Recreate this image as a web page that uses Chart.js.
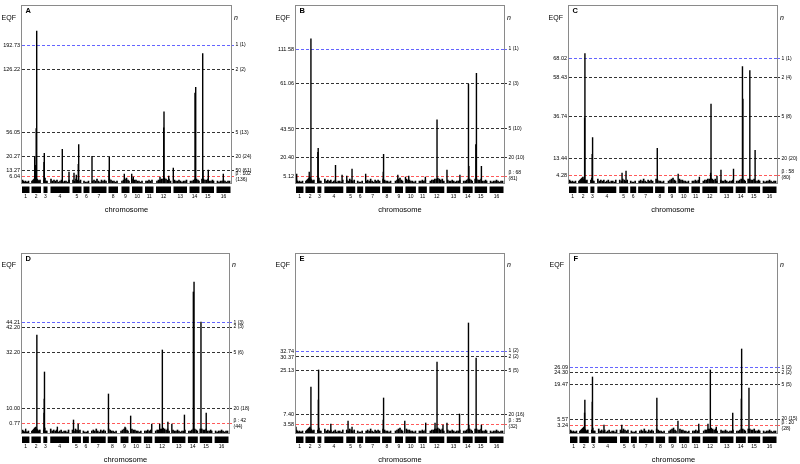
<!DOCTYPE html>
<html>
<head>
<meta charset="utf-8">
<script src="https://cdn.jsdelivr.net/npm/chart.js@4.4.0/dist/chart.umd.min.js"></script>
<style>
  html, body { margin: 0; padding: 0; background: #fff; }
  #wrap { position: relative; width: 800px; height: 464px; overflow: hidden; }
  canvas { position: absolute; }
</style>
</head>
<body>
<div id="wrap">
  <canvas id="panel-a" width="265" height="232" style="left:0px;top:0px"></canvas>
  <canvas id="panel-b" width="265" height="232" style="left:265px;top:0px"></canvas>
  <canvas id="panel-c" width="270" height="232" style="left:530px;top:0px"></canvas>
  <canvas id="panel-d" width="265" height="232" style="left:0px;top:232px"></canvas>
  <canvas id="panel-e" width="265" height="232" style="left:265px;top:232px"></canvas>
  <canvas id="panel-f" width="270" height="232" style="left:530px;top:232px"></canvas>
</div>
<script>
// chromosome blocks, genome position units
var chromStart = [0, 9.5, 21.5, 28.5, 50.5, 61.5, 69.5, 86.5, 99.5, 110, 123, 134, 151.5, 167.5, 179.5, 194.5];
var chromEnd = [7.5, 19, 25.5, 47.5, 59.5, 67.5, 84.5, 96, 107.5, 120.5, 131.5, 149, 165, 177.5, 192, 208.5];
var chromNames = ['1', '2', '3', '4', '5', '6', '7', '8', '9', '10', '11', '12', '13', '14', '15', '16'];

// low background signal (same markers in every panel)
var basePos = [0.5, 1.5, 2.5, 3.5, 4.5, 5.5, 6.5,
  10, 11, 12, 13, 14, 15, 16, 17, 18,
  22, 23, 24, 25,
  29, 30.5, 32, 33.5, 35, 36.5, 38, 39.5, 41, 42.5, 44, 45.5, 47,
  51, 52.5, 54, 55.5, 57, 58.5,
  62, 63.5, 65, 66.5,
  70.5, 72, 73.5, 75, 76.5, 78, 79.5, 81, 82.5, 84,
  87.5, 89, 90.5, 92, 93.5, 95,
  100, 101.5, 103, 104.5, 106, 107,
  111, 112.5, 114, 115.5, 117, 118.5, 120,
  124, 125.5, 127, 128.5, 130,
  135, 136.5, 138, 139.5, 141, 142.5, 144, 145.5, 147, 148.5,
  152.5, 154, 155.5, 157, 158.5, 160, 161.5, 163, 164.5,
  168.5, 170, 171.5, 173, 174.5, 176, 177,
  180, 181.5, 183, 184.5, 186, 187.5, 189, 190.5, 191.5,
  195.5, 197, 198.5, 200, 201.5, 203, 204.5, 206, 207.5];
var baseVal = [3, 2, 1, 2, 1, 1, 2,
  2, 3, 4, 5, 6, 4, 3, 2, 3,
  3, 5, 2, 2,
  4, 2, 3, 2, 3, 1, 2, 3, 1, 2, 2, 1, 3,
  3, 2, 4, 3, 2, 3,
  2, 1, 1, 2,
  2, 3, 2, 4, 2, 1, 3, 2, 3, 2,
  4, 3, 2, 2, 1, 2,
  2, 3, 4, 5, 3, 2,
  4, 3, 3, 2, 2, 1, 2,
  2, 2, 3, 2, 3,
  2, 3, 3, 4, 4, 5, 4, 3, 4, 2,
  3, 2, 2, 3, 2, 1, 2, 2, 3,
  2, 2, 3, 4, 4, 3, 2,
  4, 4, 3, 3, 4, 2, 2, 3, 2,
  2, 1, 2, 2, 3, 2, 1, 2, 2];

// panel A
var peakPosA = [12.7, 13.3, 14.2, 14.7, 22, 22.3, 40.3, 47, 52, 54.3, 56.3, 56.7, 70, 87, 87.3, 102.3, 109.7, 111.3, 138, 141.7, 142, 146.7, 151.3, 173, 173.7, 180.7, 181, 186.3, 201.3];
var peakValA = [27, 18, 55, 154, 21, 30, 34, 11, 10, 8, 19, 39, 27, 12, 26, 9, 9, 6, 6, 56, 72, 7, 15, 91, 97, 131, 12, 13, 9];
var cutA = [6.7, 12.7, 27, 51.3, 115, 139.7];
var eqfA = ['6.04', '13.27', '20.27', '56.05', '126.22', '192.73'];
var nA = [['β : 102', '(136)'], '50 (61)', '20 (24)', '5 (13)', '2 (2)', '1 (1)'];

// panel B
var peakPosB = [0.7, 13.3, 15, 22, 22.3, 39.7, 46.3, 51, 56.3, 70, 87.7, 88, 102.3, 110, 113.3, 130, 141.7, 151.7, 164.7, 173.3, 173.7, 180.7, 181.3, 186.3];
var peakValB = [9, 11, 146, 31, 35, 18, 8, 7, 14, 9, 11, 29, 8, 6, 7, 6, 64, 13, 8, 100, 17, 39, 111, 17];
var cutB = [7, 25.7, 54.7, 100.3, 135.7];
var eqfB = ['5.12', '20.40', '43.50', '61.06', '111.58'];
var nB = [['β : 68', '(81)'], '20 (10)', '5 (10)', '2 (3)', '1 (1)'];

// panel C
var peakPosC = [15.7, 16, 23.3, 23.7, 53.3, 57.3, 88.7, 109.7, 131, 142.3, 142.7, 148.7, 152.7, 165.3, 174.3, 174.7, 181.7, 187];
var peakValC = [66, 131, 29, 46, 10, 12, 35, 9, 6, 10, 80, 7, 13, 14, 118, 85, 114, 33];
var cutC = [8, 24.7, 67, 107, 126];
var eqfC = ['4.28', '13.44', '36.74', '58.43', '68.02'];
var nC = [['β : 58', '(80)'], '20 (20)', '5 (8)', '2 (4)', '1 (1)'];

// panel D
var peakPosD = [3.7, 12.7, 15, 22.3, 22.5, 22.7, 35.7, 52, 56.7, 87.3, 104, 109.7, 131, 139, 141.7, 147.3, 151.3, 164, 173, 173.7, 180.7, 186];
var peakValD = [4, 5, 98, 20, 34, 61, 6, 13, 9, 39, 6, 17, 9, 9, 83, 11, 9, 18, 141, 151, 111, 20];
var cutD = [9.3, 24.7, 80.7, 106, 110.7];
var eqfD = ['0.77', '10.00', '32.20', '42.20', '44.21'];
var nD = [['β : 42', '(44)'], '20 (18)', '5 (6)', '2 (3)', '1 (3)'];

// panel E
var peakPosE = [0, 15, 22.5, 22.7, 35, 52.3, 56.3, 87.7, 88, 109.3, 130.3, 139.7, 141.7, 147.7, 151.7, 164.3, 173.3, 173.7, 181, 186.3];
var peakValE = [6, 46, 33, 63, 9, 12, 6, 13, 35, 12, 10, 10, 71, 8, 10, 19, 110, 8, 75, 8];
var cutE = [9, 18.7, 62.7, 76, 82];
var eqfE = ['3.58', '7.40', '25.13', '30.37', '32.74'];
var nE = [['β : 35', '(32)'], '20 (16)', '5 (5)', '2 (2)', '1 (2)'];

// panel F
var peakPosF = [14.7, 15, 22.5, 22.7, 34.3, 52.3, 87.7, 109, 130, 139.3, 141.7, 147.7, 164.3, 173, 173.3, 180.7];
var peakValF = [20, 33, 31, 56, 8, 8, 35, 12, 9, 9, 63, 6, 20, 34, 84, 45];
var cutF = [7.7, 14, 48.7, 60.7, 65.3];
var eqfF = ['3.24', '5.57', '19.47', '24.30', '26.09'];
var nF = [['β : 20', '(28)'], '20 (15)', '5 (5)', '2 (2)', '1 (2)'];

var FONT = '"Liberation Sans", Arial, sans-serif';

// frame, chromosome blocks and corner texts
var panelDeco = {
    id: 'panelDeco',
    afterDraw: function(chart, args, opts) {
        var ctx = chart.ctx;
        var area = chart.chartArea;
        var xs = chart.scales.x;
        ctx.save();
        ctx.strokeStyle = '#8a8a8a';
        ctx.lineWidth = 1;
        ctx.strokeRect(Math.round(area.left) - 0.5, Math.round(area.top) + 0.5,
            Math.round(area.right - area.left) + 1, Math.round(area.bottom - area.top));
        ctx.fillStyle = '#000';
        for (var i = 0; i < chromStart.length; i++) {
            var x1 = xs.getPixelForValue(chromStart[i]);
            var x2 = xs.getPixelForValue(chromEnd[i]);
            ctx.fillRect(x1, area.bottom + 3.5, x2 - x1, 6.5);
        }
        ctx.textBaseline = 'middle';
        ctx.font = '7px ' + FONT;
        ctx.textAlign = 'right';
        ctx.fillText('EQF', area.left - 6, area.top + 12.5);
        ctx.font = 'italic 7px ' + FONT;
        ctx.textAlign = 'left';
        ctx.fillText('n', area.right + 3, area.top + 12.5);
        ctx.font = 'bold 7.5px ' + FONT;
        ctx.fillText(opts.letter, area.left + 3.5, area.top + 6);
        ctx.restore();
    }
};

function lineColor(value, cuts) {
    if (value === cuts[0]) return '#ff5a5a';
    if (value === cuts[cuts.length - 1]) return '#6464ff';
    return '#333333';
}

function yAxis(side, cuts, labels, width) {
    return {
        type: 'linear',
        position: side,
        min: 0,
        max: 180,
        afterBuildTicks: function(scale) {
            scale.ticks = cuts.map(function(v) { return { value: v }; });
        },
        afterFit: function(scale) {
            scale.width = width;
        },
        border: { display: false, dash: [3, 2] },
        grid: {
            drawOnChartArea: side === 'left',
            drawTicks: side === 'right',
            tickLength: 3,
            tickBorderDash: [],
            color: function(c) { return lineColor(c.tick ? c.tick.value : 0, cuts); },
            tickColor: function(c) { return lineColor(c.tick ? c.tick.value : 0, cuts); }
        },
        ticks: {
            autoSkip: false,
            padding: side === 'left' ? 2 : 1.5,
            color: '#000',
            font: { family: FONT, size: side === 'left' ? 5.5 : 5 },
            callback: function(value) {
                return labels[cuts.indexOf(value)];
            }
        }
    };
}

function printPanel(id, letter, peakPos, peakVal, cuts, eqf, nLab, box) {
    var basePts = basePos.map(function(p, i) { return { x: p, y: baseVal[i] }; });
    var peakPts = peakPos.map(function(p, i) { return { x: p, y: peakVal[i] }; });
    var centers = chromStart.map(function(s, i) { return (s + chromEnd[i]) / 2; });
    var ctx = document.getElementById(id).getContext('2d');
    new Chart(ctx, {
        type: 'bar',
        data: {
            datasets: [{
                data: basePts,
                backgroundColor: '#000',
                borderWidth: 0,
                barThickness: 1,
                grouped: false
            }, {
                data: peakPts,
                backgroundColor: '#000',
                borderWidth: 0,
                barThickness: 0.75,
                grouped: false
            }]
        },
        options: {
            responsive: false,
            animation: false,
            devicePixelRatio: 1,
            layout: { padding: { top: box.top, bottom: box.bottom, left: 0, right: 0 } },
            plugins: {
                legend: { display: false },
                tooltip: { enabled: false },
                panelDeco: { letter: letter }
            },
            scales: {
                x: {
                    type: 'linear',
                    min: 0,
                    max: 209,
                    offset: false,
                    afterBuildTicks: function(scale) {
                        scale.ticks = centers.map(function(v) { return { value: v }; });
                    },
                    afterFit: function(scale) {
                        scale.height = 31;
                    },
                    border: { display: false },
                    grid: { display: false, drawTicks: false, offset: false },
                    ticks: {
                        autoSkip: false,
                        maxRotation: 0,
                        padding: 11,
                        color: '#000',
                        font: { family: FONT, size: 5 },
                        callback: function(value, index) {
                            return chromNames[index];
                        }
                    },
                    title: {
                        display: true,
                        text: 'chromosome',
                        color: '#000',
                        padding: 0,
                        font: { family: FONT, size: 7.5 }
                    }
                },
                y: yAxis('left', cuts, eqf, box.left),
                y2: yAxis('right', cuts, nLab, box.width - box.right)
            }
        },
        plugins: [panelDeco]
    });
}

printPanel('panel-a', 'A', peakPosA, peakValA, cutA, eqfA, nA, { left: 22, right: 231, width: 265, top: 3, bottom: 18 });
printPanel('panel-b', 'B', peakPosB, peakValB, cutB, eqfB, nB, { left: 31, right: 239, width: 265, top: 3, bottom: 18 });
printPanel('panel-c', 'C', peakPosC, peakValC, cutC, eqfC, nC, { left: 39, right: 247, width: 270, top: 3, bottom: 18 });
printPanel('panel-d', 'D', peakPosD, peakValD, cutD, eqfD, nD, { left: 22, right: 229, width: 265, top: 21, bottom: 0 });
printPanel('panel-e', 'E', peakPosE, peakValE, cutE, eqfE, nE, { left: 31, right: 239, width: 265, top: 21, bottom: 0 });
printPanel('panel-f', 'F', peakPosF, peakValF, cutF, eqfF, nF, { left: 40, right: 247, width: 270, top: 21, bottom: 0 });
</script>
</body>
</html>
